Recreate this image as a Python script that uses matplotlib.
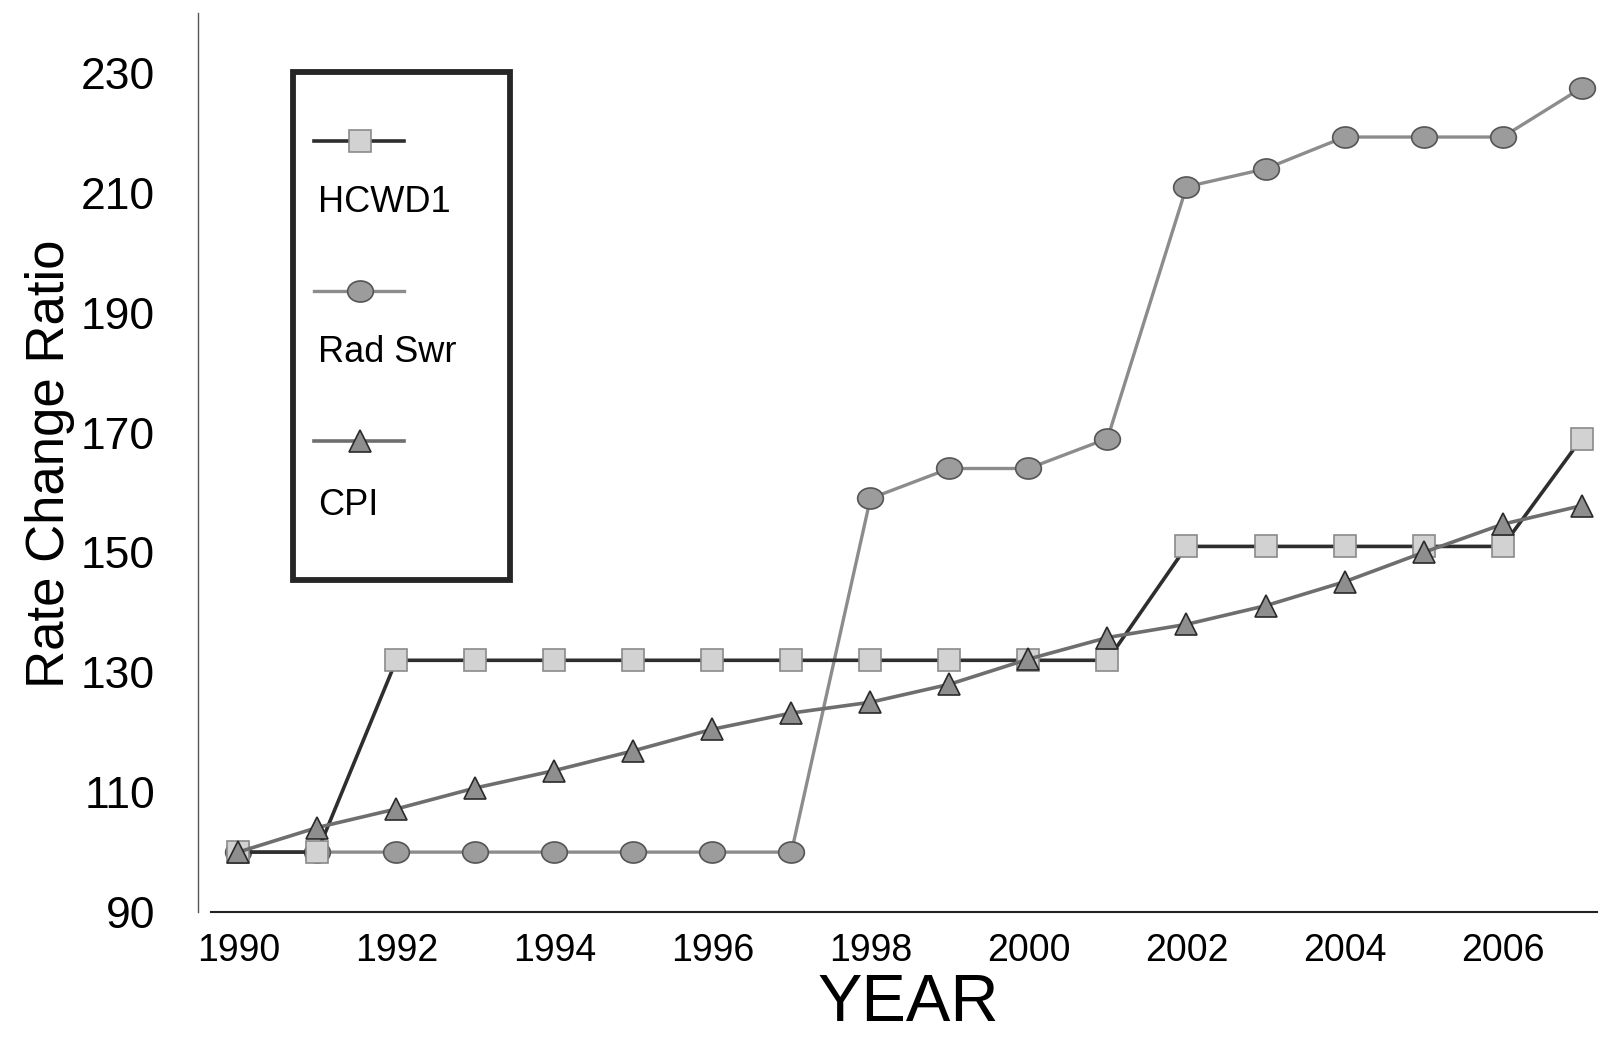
#Rate change ratio chart - HCWD1 vs Rad Swr vs CPI
import matplotlib
matplotlib.use("Agg")
import matplotlib.pyplot as plt
import matplotlib.path as mpath
from matplotlib.patches import Rectangle
from matplotlib.lines import Line2D
import numpy as np

plt.rcParams['font.family'] = ['Liberation Sans', 'DejaVu Sans']

#Datos

years = list(range(1990, 2008))
hcwd1 = [100, 100, 132, 132, 132, 132, 132, 132, 132, 132, 132, 132,
         151, 151, 151, 151, 151, 169]
rad_swr = [100, 100, 100, 100, 100, 100, 100, 100, 159, 164, 164, 169,
           211, 214, 219.3, 219.3, 219.3, 227.5]
cpi = [100, 104.1, 107.2, 110.7, 113.6, 116.9, 120.5, 123.2, 125, 128,
       132.2, 135.8, 138, 141.1, 145.1, 150, 154.7, 157.8]

names = ["HCWD1", "Rad Swr", "CPI"]
y_ticks = list(range(90, 231, 20))
x_ticks = list(range(1990, 2007, 2))

#Marcador eliptico para Rad Swr
circ = mpath.Path.unit_circle()
ellipse = mpath.Path(circ.vertices * np.array([1.0, 0.82]), circ.codes)

#Estilos

sty_h = dict(color='#2e2e2e', lw=2.6, marker='s', ms=15.5,
             mfc='#d2d2d2', mec='#8a8a8a', mew=1.2)
sty_r = dict(color='#8c8c8c', lw=2.4, marker=ellipse, ms=18.5,
             mfc='#9c9c9c', mec='#555555', mew=1.2)
sty_c = dict(color='#6e6e6e', lw=2.6, marker='^', ms=15.5,
             mfc='#8e8e8e', mec='#2a2a2a', mew=1.2)

fig = plt.figure(figsize=(16.16, 10.37), dpi=100)
ax = fig.add_axes([0.1225, 0.1205, 0.8655, 0.867])

ax.plot(years, rad_swr, **sty_r, zorder=3)
ax.plot(years, hcwd1, **sty_h, zorder=4)
ax.plot(years, cpi, **sty_c, zorder=5)

ax.set_xlim(1989.49, 2007.19)
ax.set_ylim(90, 240)
ax.set_xticks(x_ticks)
ax.set_yticks(y_ticks)
ax.tick_params(axis='y', length=0, pad=31, labelsize=32)
ax.tick_params(axis='x', length=0, pad=15, labelsize=27)

for s in ['top', 'right']:
    ax.spines[s].set_visible(False)
ax.spines['left'].set_color('#555555')
ax.spines['left'].set_linewidth(1.0)
ax.spines['bottom'].set_color('#222222')
ax.spines['bottom'].set_linewidth(1.5)
ax.spines['bottom'].set_bounds(1989.65, 2007.19)

ax.set_ylabel("Rate Change Ratio", fontsize=38)
ax.yaxis.set_label_coords(-0.088, 0.499)
ax.set_xlabel("YEAR", fontsize=48)
ax.xaxis.set_label_coords(0.508, -0.068)

#Leyenda hecha a mano (muestra arriba, texto abajo)

ax.add_patch(Rectangle((0.068, 0.369), 0.155, 0.565, transform=ax.transAxes,
                       fill=False, lw=4.2, ec='#262626', zorder=6))

leg_rows = [(0.8576, 0.7887, sty_h), (0.6908, 0.6218, sty_r), (0.5239, 0.4527, sty_c)]
for name, (ys, yt, st) in zip(names, leg_rows):
    ax.add_line(Line2D([0.0829, 0.1472], [ys, ys], transform=ax.transAxes,
                       color=st['color'], lw=st['lw'], zorder=6))
    ax.add_line(Line2D([0.1158], [ys], transform=ax.transAxes, ls='none',
                       marker=st['marker'], ms=st['ms'], mfc=st['mfc'],
                       mec=st['mec'], mew=st['mew'], zorder=7))
    ax.text(0.0858, yt, name, transform=ax.transAxes, fontsize=26,
            ha='left', va='center', zorder=7)

fig.savefig("out.png", dpi=100)
